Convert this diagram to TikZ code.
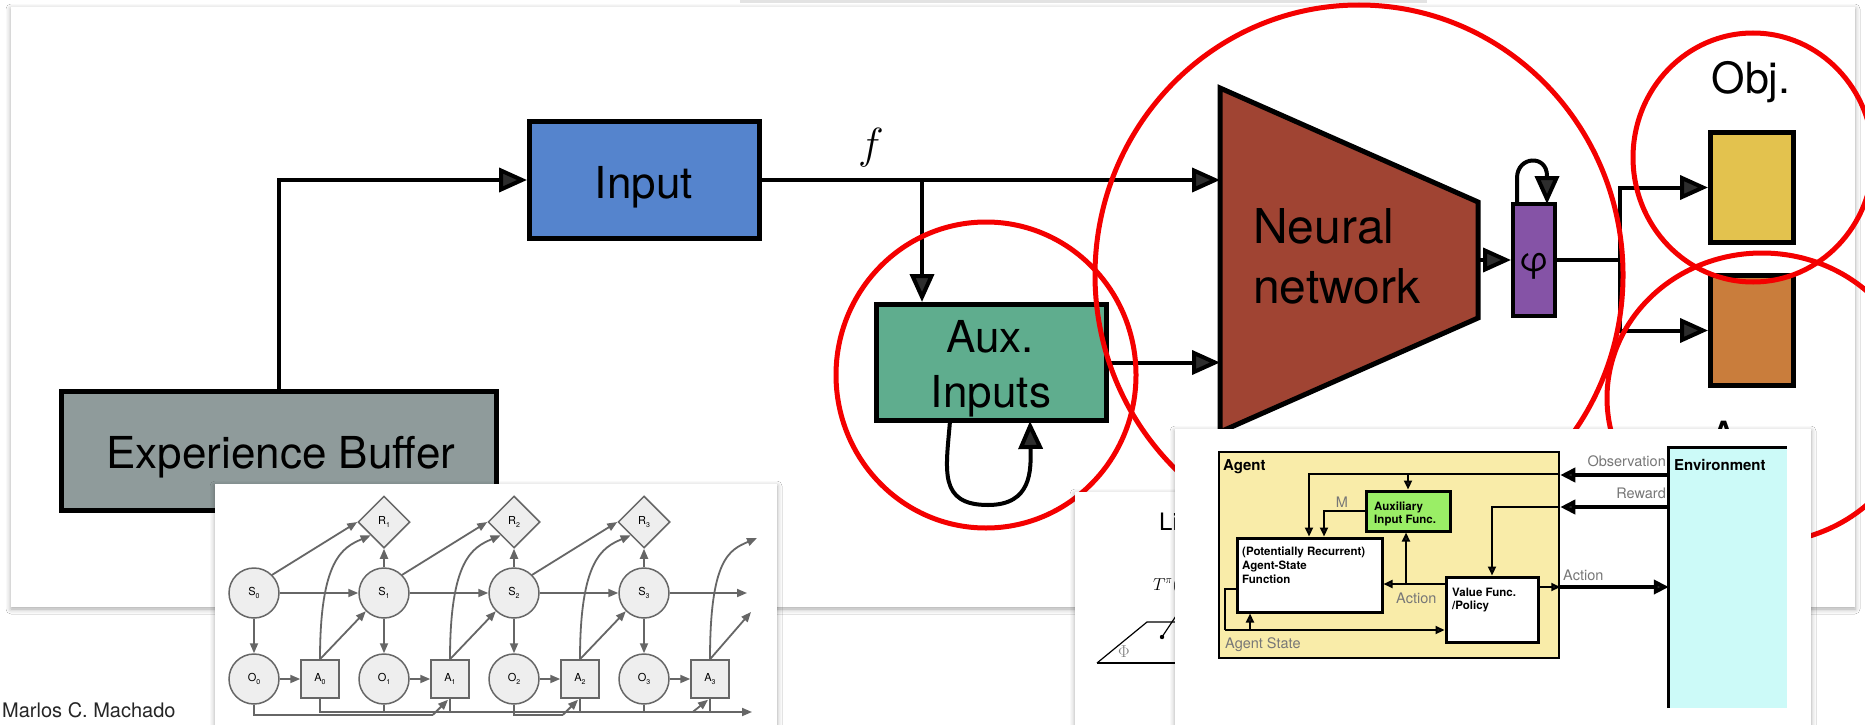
\documentclass[tikz,border=0pt]{standalone}
\usepackage{fontspec}
\setmainfont{TeX Gyre Heros}
\usetikzlibrary{arrows.meta,shadows.blur,calc,shapes.geometric}

\definecolor{cInput}{HTML}{5584CD}
\definecolor{cBuffer}{HTML}{8F9B9B}
\definecolor{cAux}{HTML}{5FAD8E}
\definecolor{cNN}{HTML}{A04433}
\definecolor{cPhi}{HTML}{8553A6}
\definecolor{cObj}{HTML}{E3C24E}
\definecolor{cOutB}{HTML}{C97D3C}
\definecolor{cAgent}{HTML}{F9ECA9}
\definecolor{cAuxF}{HTML}{9AEE66}
\definecolor{cEnv}{HTML}{CCFAF8}
\definecolor{cG}{HTML}{666666}
\definecolor{cGfill}{HTML}{EEEEEE}
\definecolor{cLabel}{HTML}{777777}
\definecolor{cRing}{HTML}{F40000}

\newcommand{\gl}[2]{#1\raisebox{-2.5pt}{\fontsize{7}{7}\selectfont #2}}

\tikzset{
  mainbox/.style={draw=black,line width=5pt,inner sep=0pt},
  mainline/.style={line width=4pt},
  mainarrow/.style={line width=4pt,-{Triangle[length=28pt,width=24pt]}},
  bigtext/.style={font=\fontsize{44}{50}\selectfont,inner sep=0pt},
  ring/.style={draw=cRing,line width=5pt},
  slide/.style={fill=white,blur shadow={shadow xshift=0pt,shadow yshift=-2pt,shadow blur radius=5pt,shadow opacity=35}},
  gcirc/.style={circle,draw=cG,fill=cGfill,line width=1.5pt,minimum size=50pt,inner sep=0pt,font=\fontsize{11}{11}\selectfont},
  gsq/.style={rectangle,draw=cG,fill=cGfill,line width=1.5pt,minimum size=38pt,inner sep=0pt,font=\fontsize{11}{11}\selectfont},
  gdia/.style={diamond,aspect=1,draw=cG,fill=cGfill,line width=1.5pt,minimum size=52pt,inner sep=0pt,font=\fontsize{11}{11}\selectfont},
  garrow/.style={draw=cG,line width=1.8pt,-{Triangle[length=10pt,width=8pt]}},
  gline/.style={draw=cG,line width=1.8pt},
  abox/.style={draw=black,line width=3pt,inner sep=0pt},
  aline/.style={line width=2pt},
  aarrow/.style={line width=2pt,-{Triangle[length=9pt,width=8pt]}},
  abig/.style={line width=4pt,-{Triangle[length=15pt,width=14pt]}},
  alabel/.style={text=cLabel,font=\fontsize{14.5}{14.5}\selectfont,inner sep=0pt},
  abold/.style={font=\bfseries\fontsize{11.5}{13.5}\selectfont,inner sep=0pt},
  atitle/.style={font=\bfseries\fontsize{15}{15}\selectfont,inner sep=0pt},
}

\begin{document}
\begin{tikzpicture}[x=1pt,y=-1pt]
\useasboundingbox (0,0) rectangle (1865,725);
\fill[white] (0,0) rectangle (1865,725);

% thin edge of a slide above
\fill[gray!22] (740,0) rectangle (1427,3);

% ---------- main slide ----------
\path[slide] (11,7) rectangle (1855,607);

\node[mainbox,fill=cInput,minimum width=230pt,minimum height=117pt] (input) at (644.5,180) {};
\node[bigtext,anchor=base] at (644,198) {Input};

\node[mainbox,fill=cBuffer,minimum width=435pt,minimum height=119pt] (buffer) at (279,451) {};
\node[bigtext,anchor=base] at (281,468) {Experience Buffer};

\node[mainbox,fill=cAux,minimum width=230pt,minimum height=116pt] (aux) at (991.5,362.5) {};
\node[bigtext,anchor=base] at (990,352) {Aux.};
\node[bigtext,anchor=base] at (991,407) {Inputs};

% neural network trapezoid
\coordinate (nnTL) at (1220,88);
\coordinate (nnTR) at (1478,202);
\coordinate (nnBR) at (1478,318);
\coordinate (nnBL) at (1220,432);
\coordinate (nnInA) at (1220,180);
\coordinate (nnInB) at (1220,362.5);
\coordinate (nnOut) at (1478,260);
\filldraw[fill=cNN,draw=black,line width=5pt,line join=miter] (nnTL) -- (nnTR) -- (nnBR) -- (nnBL) -- cycle;
\node[font=\fontsize{48}{60}\selectfont,inner sep=0pt,anchor=base west] at (1253,243) {Neural};
\node[font=\fontsize{48}{60}\selectfont,inner sep=0pt,anchor=base west] at (1253,303) {network};

\node[mainbox,line width=4pt,fill=cPhi,minimum width=42pt,minimum height=112pt] (phi) at (1534,260) {};
\node[font=\fontsize{34}{34}\selectfont,inner sep=0pt] at (1534,266) {φ};

\node[mainbox,fill=cObj,minimum width=83pt,minimum height=110pt] (obj) at (1752,187.5) {};
\node[mainbox,fill=cOutB,minimum width=83pt,minimum height=110pt] (auxobj) at (1752,330.5) {};
\node[font=\fontsize{43}{43}\selectfont,inner sep=0pt,anchor=base] at (1751,93) {Obj.};
\node[font=\fontsize{43}{43}\selectfont,inner sep=0pt,anchor=base] at (1752,452) {Aux.};

% connectors
\coordinate (fsplit) at (922,180);
\coordinate (outsplit) at (1620,260);
\draw[mainarrow] (buffer.north) |- (input.west);
\draw[mainarrow] (input.east) -- (nnInA);
\node[inner sep=0pt] at (871,148) {\fontsize{20}{20}\selectfont\scalebox{2.1}{$f$}};
\draw[mainarrow] (fsplit) -- (fsplit |- aux.north);
\draw[mainarrow] (aux.east) -- (nnInB);
\draw[mainarrow] (950,421) .. controls (946,470) and (938,505) .. (988,505)
      .. controls (1032,505) and (1031,470) .. (1030,421);
\draw[mainarrow] (nnOut) -- (phi.west);
\draw[mainarrow] (1517,204) -- (1517,178) .. controls (1517,156) and (1547,154) .. (1547,176) -- (1547,204);
\draw[mainline] (phi.east) -- (outsplit);
\draw[mainarrow,line join=miter] (outsplit) |- (obj.west);
\draw[mainarrow,line join=miter] (outsplit) |- (auxobj.west);

% ---------- highlight rings ----------
\draw[ring] (986,375) ellipse [x radius=150pt,y radius=153pt];
\draw[ring] (1359,275) ellipse [x radius=264pt,y radius=270pt];
\draw[ring] (1753,157.5) ellipse [x radius=120pt,y radius=124.5pt];
\draw[ring] (1762,398) ellipse [x radius=155pt,y radius=145pt];

\node[font=\fontsize{20}{20}\selectfont,text=black!85,inner sep=0pt,anchor=base west] at (2,717) {Marlos C. Machado};

% ---------- graphical model slide ----------
\path[slide] (215,484) rectangle (777,745);
\foreach \i in {0,...,3} {
  \node[gcirc] (S\i) at ({254+130*\i},593) {\gl{S}{\i}};
  \node[gcirc] (O\i) at ({254+130*\i},679) {\gl{O}{\i}};
  \node[gsq] (A\i) at ({320+130*\i},679) {\gl{A}{\i}};
}
\foreach \i in {1,2,3} \node[gdia] (R\i) at ({254+130*\i},522) {\gl{R}{\i}};
\coordinate (Snext) at (747,593);
\coordinate (Rnext) at (757,538);
\coordinate (Anext) at (751,612);
\coordinate (Hnext) at (752,712);
\foreach \i in {0,...,3} {
  \draw[garrow] (S\i) -- (O\i);
  \draw[garrow] (O\i) -- (A\i);
}
\foreach \i/\j in {0/1,1/2,2/3} {
  \draw[garrow] (S\i) -- (S\j);
  \draw[garrow] (S\j) -- (R\j);
  \draw[garrow] (S\i.45) -- (R\j.west);
  \draw[garrow] (A\i.north) -- (S\j.225);
  \draw[garrow] (A\i.north) .. controls ($(A\i.north)+(0,-100)$) and ($(R\j.south west)+(-28,12)$) .. (R\j.south west);
}
\draw[garrow] (S3) -- (Snext);
\draw[garrow] (A3.north) -- (Anext);
\draw[garrow] (A3.north) .. controls ($(A3.north)+(0,-100)$) and ($(Rnext)+(-28,12)$) .. (Rnext);
% history lines along the bottom
\draw[garrow] (A0.south) |- (Hnext);
\foreach \i in {1,2,3} \draw[gline] (A\i.south) -- ++(0,14);
\draw[gline] (O0.south) |- ($(A1.south)+(-17,16)$);
\draw[gline] (O1.south) |- ($(A1.south)+(-17,13)$);
\draw[garrow] ($(A1.south)+(-17,16)$) -- ($(A1.south)+(-2,1)$);
\draw[gline] (O2.south) |- ($(A2.south)+(-17,16)$);
\draw[garrow] ($(A2.south)+(-17,16)$) -- ($(A2.south)+(-2,1)$);
\draw[gline] (O3.south) |- ($(A3.south)+(-17,13)$);
\draw[garrow] ($(A3.south)+(-17,13)$) -- ($(A3.south)+(-2,1)$);

% ---------- slide partly hidden ----------
\path[slide] (1075,492) rectangle (1320,745);
\node[font=\fontsize{24}{24}\selectfont,inner sep=0pt,anchor=base west] at (1159,530) {Li};
\node[font=\fontsize{16}{16}\selectfont,inner sep=0pt,anchor=base west] at (1153,590) {$T^{\pi}($};
\draw[line width=1.2pt] (1097,663) -- (1147,622) -- (1200,622);
\draw[line width=1.2pt] (1097,663) -- (1200,663);
\node[text=gray,font=\fontsize{16}{16}\selectfont,inner sep=0pt] at (1124,652) {$\Phi$};
\coordinate (dotA) at (1162,637);
\coordinate (dotB) at (1180,610);
\draw[line width=1.2pt] (dotA) -- (dotB);
\fill (dotA) circle (2.2pt);

% ---------- agent / environment slide ----------
\path[slide] (1175,429) rectangle (1811,745);
\node[draw=black,line width=2.5pt,fill=cAgent,inner sep=0pt,minimum width=340pt,minimum height=206pt] (agent) at (1389,555) {};
\node[fill=cEnv,inner sep=0pt,minimum width=118pt,minimum height=260pt] (env) at (1728,578) {};
\draw[line width=3pt] (env.south west) -- (env.north west) -- (env.north east);
\node[atitle,anchor=base west] at (1223,470) {Agent};
\node[atitle,anchor=base west] at (1674,470) {Environment};

\node[abox,fill=cAuxF,minimum width=84pt,minimum height=40pt] (auxf) at (1408,511) {};
\node[abold,anchor=base west] at (1374,510) {Auxiliary};
\node[abold,anchor=base west] at (1374,523) {Input Func.};

\node[abox,fill=white,minimum width=145pt,minimum height=74pt] (asf) at (1309.5,575) {};
\node[abold,anchor=base west] at (1242,555) {(Potentially Recurrent)};
\node[abold,anchor=base west] at (1242,569) {Agent-State};
\node[abold,anchor=base west] at (1242,583) {Function};

\node[abox,fill=white,minimum width=92pt,minimum height=65pt] (vf) at (1492,609.5) {};
\node[abold,anchor=base west] at (1452,596) {Value Func.};
\node[abold,anchor=base west] at (1452,609) {/Policy};

% outer signals
\draw[abig] (env.west |- 0,475) -- (agent.east |- 0,475);
\draw[abig] (env.west |- 0,507) -- (agent.east |- 0,507);
\draw[abig] (agent.east |- 0,587) -- (env.west |- 0,587);
\node[alabel,anchor=base east] at (1666,466) {Observation};
\node[alabel,anchor=base east] at (1666,498) {Reward};
\node[alabel,anchor=base west] at (1563,580) {Action};

% inner signals
\draw[aarrow] (agent.east |- 0,474) -| (asf.north -| 1309,0);
\draw[aarrow] (1408,474) -- (auxf.north);
\draw[aarrow] (auxf.west) -| (asf.north -| 1324,0);
\node[alabel,anchor=base] at (1342,507) {M};
\draw[aarrow] (agent.east |- 0,507) -| (vf.north);
\draw[aarrow] (vf.west |- 0,584) -- (asf.east |- 0,584);
\draw[aarrow] (1406,584) -- (auxf.south -| 1406,0);
\node[alabel,anchor=base west] at (1396,603) {Action};
\draw[aarrow] (vf.east |- 0,587) -- (agent.east |- 0,587);
\draw[aline] (asf.west |- 0,589) -- (1225,589) -- (1225,630);
\draw[aarrow] (1225,630) -- (vf.west |- 0,630);
\draw[aarrow] (1250,630) -- (asf.south -| 1250,0);
\node[alabel,anchor=base west] at (1225,648) {Agent State};
\end{tikzpicture}
\end{document}
